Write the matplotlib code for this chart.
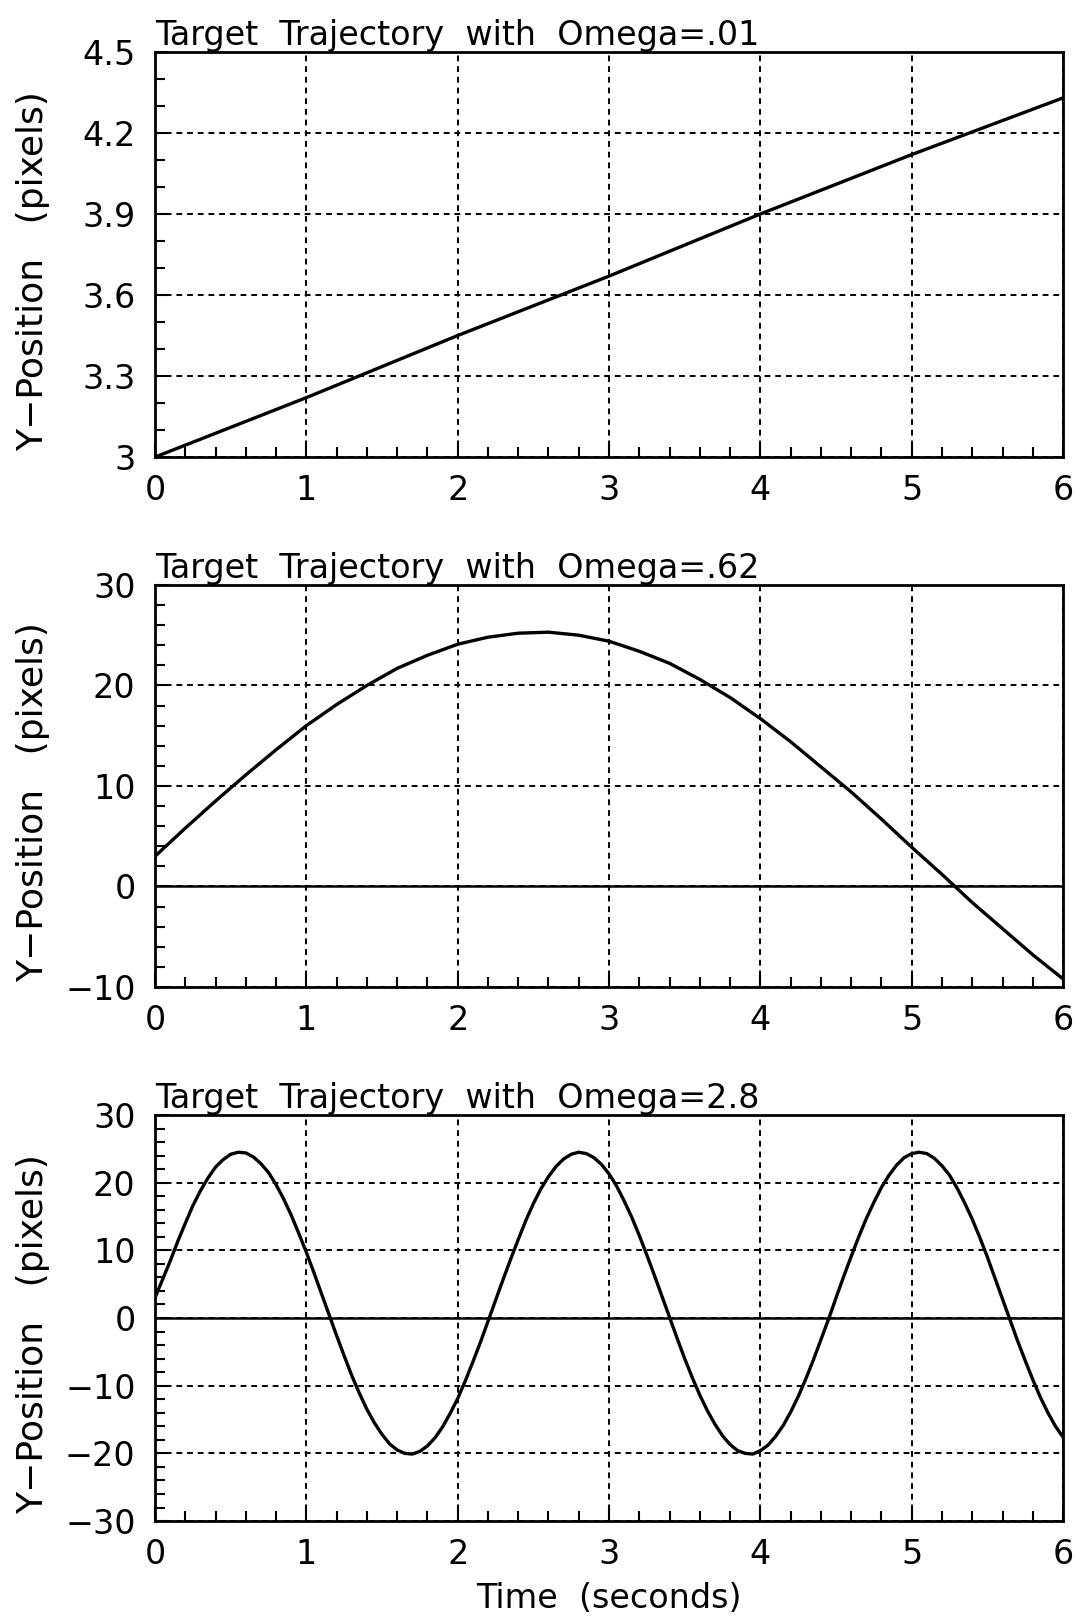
import matplotlib
matplotlib.use("Agg")
import matplotlib.pyplot as plt
from matplotlib.ticker import MultipleLocator

# Omega = .01 (nearly straight line)
t_slow = [0, 1, 2, 3, 4, 5, 6]
y_slow = [3.0, 3.22, 3.45, 3.67, 3.90, 4.12, 4.33]

# Omega = .62, read every 0.2 s
y_mid = [3.0, 5.8, 8.5, 11.1, 13.6, 16.0, 18.1, 20.0, 21.7, 23.0,
         24.1, 24.8, 25.2, 25.3, 25.0, 24.4, 23.4, 22.2, 20.6, 18.8,
         16.7, 14.4, 11.9, 9.4, 6.7, 3.9, 1.2, -1.6, -4.2, -6.8, -9.2]
t_mid = [i * 0.2 for i in range(len(y_mid))]

# Omega = 2.8, read every 0.05 s
y_fast = [3.0, 5.7, 8.4, 11.3, 14.0, 16.6, 18.8, 20.7, 22.3, 23.4,
          24.2, 24.5, 24.4, 23.8, 22.8, 21.5, 19.7, 17.6, 15.2, 12.5,
          9.7, 6.7, 3.6, 0.5, -2.6, -5.6, -8.5, -11.1, -13.5, -15.5,
          -17.2, -18.6, -19.5, -20.0, -20.1, -19.7, -18.9, -17.7, -16.1, -14.1,
          -11.9, -9.3, -6.5, -3.6, -0.5, 2.6, 5.7, 8.7, 11.6, 14.4,
          16.9, 19.1, 20.9, 22.4, 23.5, 24.2, 24.5, 24.3, 23.7, 22.7,
          21.3, 19.5, 17.3, 14.9, 12.2, 9.3, 6.3, 3.2, 0.1, -3.0,
          -6.0, -8.8, -11.4, -13.7, -15.7, -17.4, -18.7, -19.6, -20.0, -20.1,
          -19.6, -18.8, -17.5, -15.9, -13.9, -11.6, -9.0, -6.2, -3.2, -0.2,
          3.0, 6.1, 9.1, 12.0, 14.7, 17.1, 19.3, 21.1, 22.6, 23.7,
          24.3, 24.5, 24.3, 23.6, 22.5, 21.1, 19.2, 17.0, 14.6, 11.9,
          9.0, 5.9, 2.8, -0.3, -3.4, -6.3, -9.1, -11.7, -14.0, -16.0,
          -17.6]
t_fast = [i * 0.05 for i in range(len(y_fast))]

titles = ["Target  Trajectory  with  Omega=.01",
          "Target  Trajectory  with  Omega=.62",
          "Target  Trajectory  with  Omega=2.8"]
ylims = [(3.0, 4.5), (-10, 30), (-30, 30)]
y_major = [0.3, 10, 10]
y_minor = [0.1, 2, 2]

plt.rcParams["font.family"] = "DejaVu Sans"
plt.rcParams["font.size"] = 24

fig = plt.figure(figsize=(10.81, 16.19), dpi=100)
boxes = [[0.1434, 0.7177, 0.840, 0.2502],
         [0.1434, 0.3904, 0.840, 0.2483],
         [0.1434, 0.0605, 0.840, 0.2508]]
data = [(t_slow, y_slow), (t_mid, y_mid), (t_fast, y_fast)]

for i, box in enumerate(boxes):
    ax = fig.add_axes(box)
    t, y = data[i]
    ax.plot(t, y, color="black", lw=2.4, zorder=3)
    ax.set_xlim(0, 6)
    ax.set_ylim(*ylims[i])
    ax.xaxis.set_major_locator(MultipleLocator(1))
    ax.xaxis.set_minor_locator(MultipleLocator(0.2))
    ax.yaxis.set_major_locator(MultipleLocator(y_major[i]))
    ax.yaxis.set_minor_locator(MultipleLocator(y_minor[i]))
    if i == 0:
        ax.set_yticks([3.0, 3.3, 3.6, 3.9, 4.2, 4.5])
        ax.set_yticklabels(["3", "3.3", "3.6", "3.9", "4.2", "4.5"])
    else:
        ax.axhline(0, color="black", lw=1.8, zorder=2)
    ax.grid(True, which="major", color="black", lw=1.4,
            linestyle=(0, (3, 2.5)))
    ax.tick_params(which="both", direction="in", top=False, right=False,
                   width=1.5, colors="black", labelsize=24)
    ax.tick_params(which="major", length=10)
    ax.tick_params(which="minor", length=7)
    ax.tick_params(axis="x", pad=12)
    ax.tick_params(axis="y", pad=14)
    for sp in ax.spines.values():
        sp.set_linewidth(2.0)
    ax.set_title(titles[i], loc="left", pad=4, fontsize=24)
    ax.set_ylabel("Y\u2212Position   (pixels)", fontsize=26)
    ax.yaxis.set_label_coords(-0.116, 0.46)

ax.set_xlabel("Time  (seconds)", fontsize=24, labelpad=8)

fig.savefig("out.png", dpi=100, facecolor="white")
